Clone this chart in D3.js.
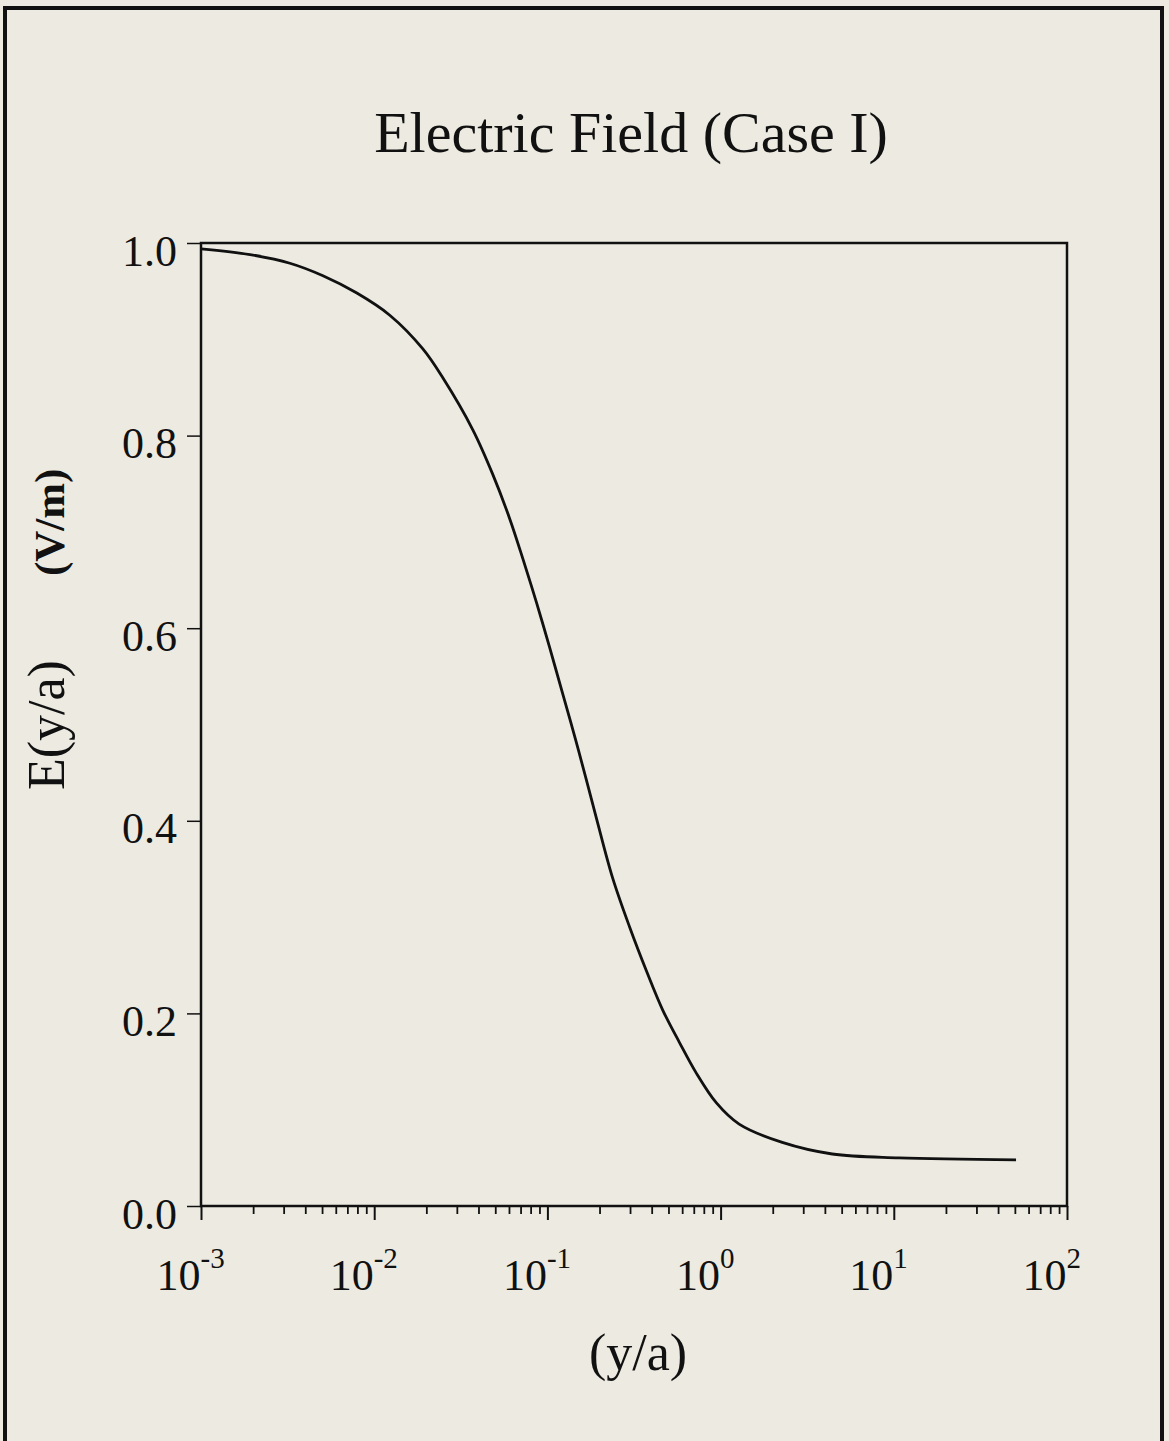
<!DOCTYPE html>
<html>
<head>
<meta charset="utf-8">
<script src="https://cdn.jsdelivr.net/npm/d3@7"></script>
<style>
  html, body { margin: 0; padding: 0; background: #edebe1; }
  svg { display: block; }
  text { font-family: "Liberation Serif", "Times New Roman", serif; fill: #111; }
</style>
</head>
<body>
<svg id="chart" width="1169" height="1441"></svg>
<script>
// ---- data ----
const titleText = "Electric Field (Case I)";
const xLabelText = "(y/a)";
const yLabelMain = "E(y/a)";
const yLabelUnit = "(V/m)";
const xDomain = [1e-3, 1e2];
const yDomain = [0, 1];
const yTickValues = [0.0, 0.2, 0.4, 0.6, 0.8, 1.0];
const yTickLabels = ["0.0", "0.2", "0.4", "0.6", "0.8", "1.0"];
const xMajorTicks = [1e-3, 1e-2, 1e-1, 1, 10, 100];
const xTickExponents = ["-3", "-2", "-1", "0", "1", "2"];
const yaValues = [0.001, 0.00192, 0.00326, 0.00506, 0.00794, 0.0123, 0.0191, 0.0249, 0.0371, 0.0483,
                  0.0605, 0.0719, 0.0867, 0.1030, 0.1225, 0.1436, 0.167, 0.1923, 0.2377, 0.2979, 0.3733,
                  0.4618, 0.578, 0.724, 0.946, 1.28, 2.27, 4.41, 10.7, 50.8];
const fieldValues = [0.994, 0.988, 0.979, 0.966, 0.948, 0.925, 0.890, 0.860, 0.806, 0.760,
                     0.714, 0.673, 0.626, 0.580, 0.532, 0.488, 0.444, 0.402, 0.341, 0.290, 0.244,
                     0.204, 0.170, 0.138, 0.107, 0.085, 0.066, 0.054, 0.050, 0.048];

// ---- layout ----
const svg = d3.select("#chart");
const L = 201, R = 1067, T = 243, B = 1206;

const x = d3.scaleLog().domain(xDomain).range([L, R]);
const y = d3.scaleLinear().domain(yDomain).range([B, T]);

// outer frame
svg.append("rect")
  .attr("x", 5).attr("y", 8).attr("width", 1157).attr("height", 1450)
  .attr("fill", "none").attr("stroke", "#111").attr("stroke-width", 4);

// title
svg.append("text")
  .attr("x", 631).attr("y", 152)
  .attr("text-anchor", "middle")
  .style("font-size", "58px")
  .text(titleText);

// minor x ticks
const minorTicks = [];
for (let e = -3; e < 2; e++) {
  for (let m = 2; m <= 9; m++) minorTicks.push(m * Math.pow(10, e));
}
svg.append("g")
  .attr("transform", `translate(0,${B})`)
  .call(d3.axisBottom(x).tickValues(minorTicks).tickSize(8).tickFormat(""))
  .call(g => g.select(".domain").remove())
  .call(g => g.selectAll("line").attr("stroke", "#111").attr("stroke-width", 1.8));

// major x ticks
const xAxisG = svg.append("g")
  .attr("transform", `translate(0,${B})`)
  .call(d3.axisBottom(x).tickValues(xMajorTicks).tickSize(14).tickFormat(""))
  .call(g => g.select(".domain").remove())
  .call(g => g.selectAll("line").attr("stroke", "#111").attr("stroke-width", 2));

// x tick labels with superscripts
xAxisG.selectAll(".tick").each(function(d, i) {
  const g = d3.select(this);
  g.append("text")
    .attr("x", -1).attr("y", 84)
    .attr("text-anchor", "end")
    .style("font-size", "44px")
    .attr("fill", "#111")
    .text("10");
  g.append("text")
    .attr("x", -1).attr("y", 62)
    .attr("text-anchor", "start")
    .style("font-size", "29px")
    .attr("fill", "#111")
    .text(xTickExponents[i]);
});

// y axis
svg.append("g")
  .attr("transform", `translate(${L},0)`)
  .call(d3.axisLeft(y).tickValues(yTickValues).tickSize(14).tickPadding(10)
        .tickFormat((d, i) => yTickLabels[i]))
  .call(g => g.select(".domain").remove())
  .call(g => g.selectAll("line").attr("stroke", "#111").attr("stroke-width", 1.5))
  .call(g => g.selectAll("text")
      .attr("dy", null).attr("y", 22)
      .style("font-size", "44px")
      .style("font-family", "'Liberation Serif', serif")
      .attr("fill", "#111"));

// plot box
svg.append("rect")
  .attr("x", L).attr("y", T).attr("width", R - L).attr("height", B - T)
  .attr("fill", "none").attr("stroke", "#111").attr("stroke-width", 2.5);

// curve
const pts = yaValues.map((v, i) => [v, fieldValues[i]]);
svg.append("path")
  .datum(pts)
  .attr("fill", "none")
  .attr("stroke", "#111")
  .attr("stroke-width", 2.8)
  .attr("stroke-linejoin", "round")
  .attr("d", d3.line().x(d => x(d[0])).y(d => y(d[1])).curve(d3.curveCatmullRom.alpha(0.5)));

// x label
svg.append("text")
  .attr("x", 638).attr("y", 1370)
  .attr("text-anchor", "middle")
  .style("font-size", "52px")
  .text(xLabelText);

// y label
const yl = svg.append("text")
  .attr("transform", "translate(64,790) rotate(-90)")
  .attr("text-anchor", "start");
yl.append("tspan").style("font-size", "52px").text(yLabelMain);
yl.append("tspan").attr("dx", 84).style("font-size", "43px").style("font-weight", "bold").text(yLabelUnit);
</script>
</body>
</html>
